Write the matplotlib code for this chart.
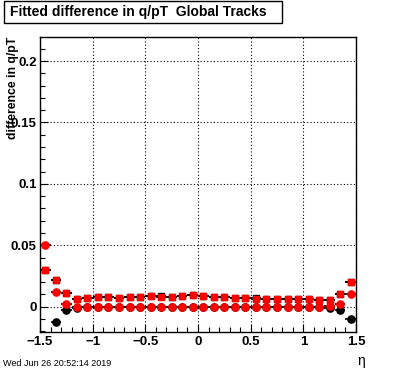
import numpy as np
import matplotlib
matplotlib.use("Agg")
import matplotlib.pyplot as plt
from matplotlib.patches import Rectangle
from matplotlib.ticker import MultipleLocator, FuncFormatter

eta = [-1.45, -1.35, -1.25, -1.15, -1.05, -0.95, -0.85, -0.75, -0.65, -0.55,
       -0.45, -0.35, -0.25, -0.15, -0.05, 0.05, 0.15, 0.25, 0.35, 0.45,
       0.55, 0.65, 0.75, 0.85, 0.95, 1.05, 1.15, 1.25, 1.35, 1.45]
red_sq = [0.030, 0.0214, 0.011, 0.0065, 0.0068, 0.0076, 0.0076, 0.0071, 0.0076, 0.0079,
          0.0084, 0.0079, 0.0079, 0.0084, 0.0092, 0.0084, 0.0079, 0.0076, 0.0073, 0.0073,
          0.0067, 0.0063, 0.0065, 0.0065, 0.0065, 0.0065, 0.0057, 0.0057, 0.010, 0.020]
black_sq = [0.030, 0.0214, 0.011, 0.0066, 0.0069, 0.0078, 0.0078, 0.0072, 0.0078, 0.0082,
            0.0089, 0.0086, 0.0082, 0.0086, 0.0096, 0.0086, 0.0081, 0.0078, 0.0075, 0.0074,
            0.0068, 0.0064, 0.0066, 0.0066, 0.0066, 0.0066, 0.0058, 0.0058, 0.010, 0.020]
red_c = [0.050, 0.0118, 0.0022, 0.0, 0.0, 0.0, 0.0, 0.0, 0.0, 0.0,
         0.0, 0.0, 0.0, 0.0, 0.0, 0.0, 0.0, 0.0, 0.0, 0.0,
         0.0, 0.0, 0.0, 0.0, 0.0, 0.0, 0.0, 0.0003, 0.0025, 0.0106]
black_c = [np.nan, -0.0125, -0.003, -0.001, -0.0003, -0.0002, -0.0002, -0.0002, -0.0002, -0.0002,
           -0.0002, -0.0002, -0.0002, -0.0002, -0.0002, -0.0002, -0.0002, -0.0002, -0.0002, -0.0002,
           -0.0002, -0.0002, -0.0002, -0.0002, -0.0002, -0.0002, -0.0003, -0.001, -0.0025, -0.0098]
half_bin = 0.05

title = "Fitted difference in q/pT  Global Tracks"
ylabel = "difference in q/pT"
xlabel = "\u03b7"
date = "Wed Jun 26 20:52:14 2019"

plt.rcParams['font.family'] = ['Liberation Sans', 'DejaVu Sans']

W, H = 396, 372
fig = plt.figure(figsize=(W / 100, H / 100), dpi=100)
ax = fig.add_axes([40 / W, 1 - 332.3 / H, (356 - 40) / W, (332.3 - 36.7) / H])

ax.set_xlim(-1.5, 1.5)
ax.set_ylim(-0.0208, 0.2198)

ax.xaxis.set_major_locator(MultipleLocator(0.5))
ax.xaxis.set_minor_locator(MultipleLocator(0.1))
ax.yaxis.set_major_locator(MultipleLocator(0.05))
ax.yaxis.set_minor_locator(MultipleLocator(0.01))
ax.grid(True, which='major', color='black', linestyle=(0, (1, 2)), linewidth=0.8)
ax.tick_params(which='both', direction='in', top=False, right=False, width=0.8)
ax.tick_params(which='major', length=6, labelsize=9.5, pad=2.5)
ax.tick_params(which='minor', length=3.5)
ax.yaxis.set_major_formatter(FuncFormatter(lambda v, p: f"{v:g}"))
ax.xaxis.set_major_formatter(FuncFormatter(lambda v, p: f"{v:g}".replace('-', '\u2212')))
for s in ax.spines.values():
    s.set_linewidth(1.0)

ekw = dict(xerr=half_bin, ecolor='black', elinewidth=1.2, capsize=0, linestyle='none')
ax.errorbar(eta, black_sq, marker='s', ms=4.5, mfc='black', mec='black', **ekw)
ax.errorbar(eta, black_c, marker='o', ms=5.2, mfc='black', mec='black', **ekw)
ax.errorbar(eta, red_sq, marker='s', ms=4.5, mfc='red', mec='red', **ekw)
ax.errorbar(eta, red_c, marker='o', ms=5.2, mfc='red', mec='red', **ekw)

for lab in ax.get_xticklabels() + ax.get_yticklabels():
    lab.set_fontweight('bold')

ax.set_ylabel(ylabel, fontsize=8.8, fontweight='bold', loc='top')
ax.yaxis.set_label_coords(-21 / 316, 1.0)

fig.patches.append(Rectangle((3.5 / W, 1 - 22.5 / H), (281.5 - 3.5) / W, 21.5 / H,
                             transform=fig.transFigure, fill=True, facecolor='white',
                             edgecolor='black', linewidth=1.0))
fig.text(10 / W, 1 - 12 / H, title, fontsize=10, fontweight='bold', ha='left', va='center')
fig.text(3 / W, 1 - 363 / H, date, fontsize=6.5, ha='left', va='center')
fig.text(357 / W, 1 - 361 / H, xlabel, fontsize=10, ha='left', va='center')

fig.savefig("out.png", dpi=100)
